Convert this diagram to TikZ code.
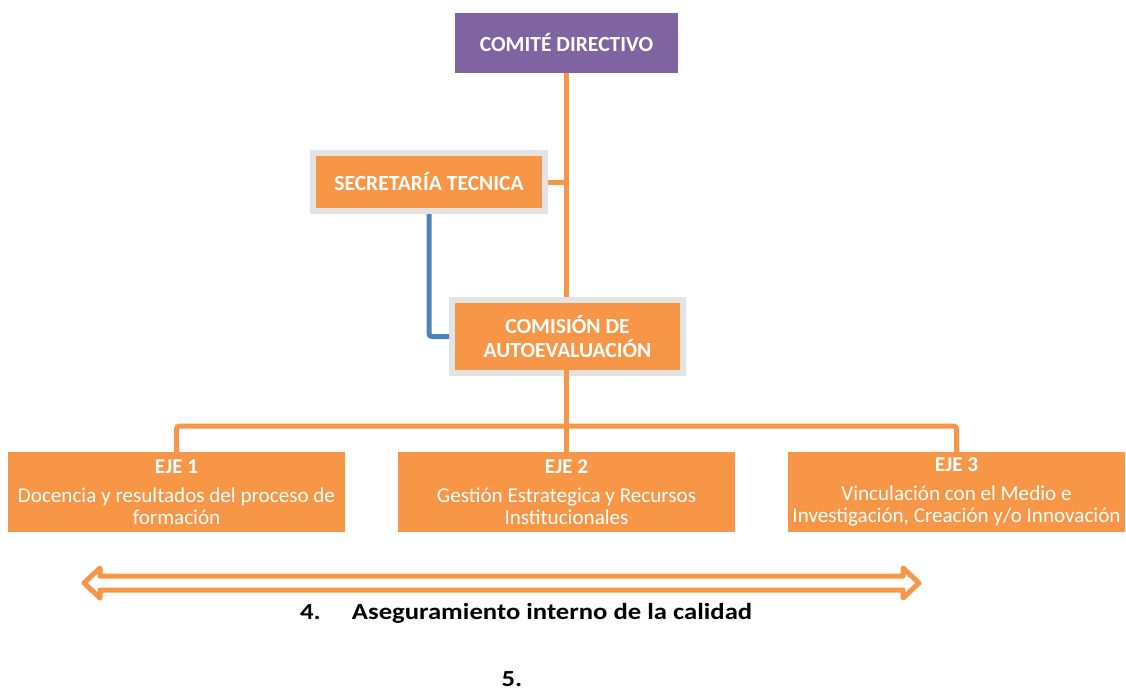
\documentclass[tikz,border=0pt]{standalone}
\usepackage{fontspec}
\setmainfont{Carlito}
\definecolor{orng}{HTML}{F79646}
\definecolor{purp}{HTML}{8064A2}
\definecolor{blu}{HTML}{4F81BD}
\definecolor{gry}{HTML}{E3E3E3}
\begin{document}
\begin{tikzpicture}[x=1pt,y=-1pt,
  every node/.style={inner sep=0pt, outer sep=0pt, font=\fontsize{21.1}{22}\selectfont},
  headbox/.style={rectangle, fill=purp, text=white, font=\fontsize{21.6}{22}\selectfont\bfseries, minimum width=223pt, minimum height=60pt},
  grybox/.style={rectangle, fill=orng, draw=gry, line width=6pt, text=white, font=\fontsize{21.6}{23.5}\selectfont\bfseries, align=center},
  ejebox/.style={rectangle, fill=orng, text=white, align=center, minimum width=337pt, minimum height=80pt},
  conn/.style={draw=orng, line width=5pt},
  bconn/.style={draw=blu, line width=5pt, rounded corners=3pt},
  caption/.style={font=\fontsize{23}{25}\selectfont\bfseries}
]
\useasboundingbox (0,0) rectangle (1126,690);

\node[headbox] (cd) at (566.5,43) {COMITÉ DIRECTIVO};
\node[grybox, minimum width=232pt, minimum height=58pt] (st) at (429,182) {SECRETARÍA TECNICA};
\node[grybox, minimum width=231pt, minimum height=73pt] (ca) at (567.5,336.5) {COMISIÓN DE\\AUTOEVALUACIÓN};

\node[ejebox] (e1) at (176.5,492) {\textbf{EJE 1}\\[7pt]Docencia y resultados del proceso de\\formación};
\node[ejebox] (e2) at (566.5,492) {\textbf{EJE 2}\\[7pt]Gestión Estrategica y Recursos\\Institucionales};
\node[ejebox] (e3) at (956.5,492) {\textbf{EJE 3}\\[7pt]Vinculación con el Medio e\\Investigación, Creación y/o Innovación};

% connectors
\draw[conn] (cd.south -| 566.5,0) -- (566.5,297);
\draw[conn] (st.east) ++(3pt,0) -- (566.5,182);
\draw[bconn] ([yshift=-3pt]st.south) |- ([xshift=-3pt]ca.west);
\draw[conn] ([yshift=3pt]ca.south -| 566.5,0) -- (e2.north -| 566.5,0);
\draw[conn, rounded corners=3pt] (e1.north) -- (176.5,426) -| (e3.north);

% double arrow
\draw[orng, line width=5pt, line join=round, line cap=round, fill=white]
  (84,583) -- (100,568) -- (100,576) -- (903,576) -- (903,568) -- (919,583)
  -- (903,598) -- (903,590) -- (100,590) -- (100,598) -- cycle;

\node[caption, anchor=base west] (t4) at (300,619) {\scalebox{1.16}[1]{4.\hspace{27pt}Aseguramiento interno de la calidad}};
\node[caption, anchor=base] (t5) at (512,686) {\scalebox{1.16}[1]{5.}};
\end{tikzpicture}
\end{document}
